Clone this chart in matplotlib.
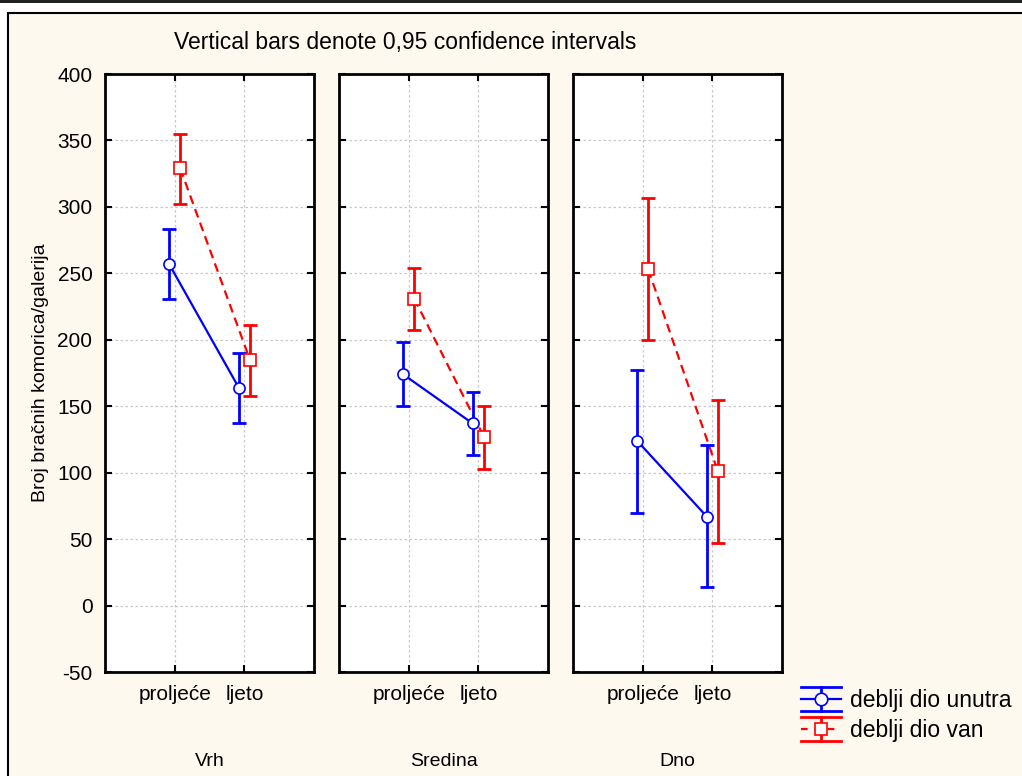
import matplotlib

matplotlib.use("Agg")
import matplotlib.pyplot as plt
from matplotlib.legend_handler import HandlerBase
from matplotlib.lines import Line2D
from matplotlib.patches import Rectangle

plt.rcParams["font.family"] = ["Liberation Sans", "DejaVu Sans"]
plt.rcParams["axes.unicode_minus"] = False

panels = ["Vrh", "Sredina", "Dno"]
seasons = ["proljeće", "ljeto"]

# deblji dio unutra (blue)
unutra_mean = [[257, 164], [174, 137], [124, 67]]
unutra_low = [[231, 137], [150, 113], [70, 14]]
unutra_high = [[283, 190], [198, 161], [177, 121]]

# deblji dio van (red)
van_mean = [[329, 185], [231, 127], [253, 101]]
van_low = [[302, 158], [207, 103], [200, 47]]
van_high = [[355, 211], [254, 150], [307, 155]]

series = [
    ("deblji dio unutra", unutra_mean, unutra_low, unutra_high, "#0000ff", "-", "o", -0.08),
    ("deblji dio van", van_mean, van_low, van_high, "#ff0000", (0, (4, 2.5)), "s", 0.08),
]

W, H = 1022, 776
CREAM = "#fdf9ef"


class ErrHandler(HandlerBase):
    def __init__(self, color, ls, marker):
        super().__init__()
        self.color, self.ls, self.marker = color, ls, marker

    def create_artists(self, legend, orig_handle, xdescent, ydescent, width, height, fontsize, trans):
        x0, x1 = -xdescent, -xdescent + width
        cy = -ydescent + height / 2
        h = height * 0.75
        xm = (x0 + x1) / 2
        arts = [
            Line2D([x0, x1], [cy, cy], color=self.color, ls=self.ls, lw=1.6),
            Line2D([x0, x1], [cy + h, cy + h], color=self.color, lw=2),
            Line2D([x0, x1], [cy - h, cy - h], color=self.color, lw=2),
            Line2D([xm, xm], [cy - h, cy + h], color=self.color, lw=2),
            Line2D([xm], [cy], marker=self.marker, ms=9, mfc="white", mec=self.color, mew=1.2, ls="none"),
        ]
        for a in arts:
            a.set_transform(trans)
        return arts


fig = plt.figure(figsize=(W / 100, H / 100), dpi=100, facecolor="white")
fig.patches.append(Rectangle((8 / W, -0.05), 1.05, 1 - 13 / H + 0.05, transform=fig.transFigure,
                             facecolor=CREAM, edgecolor="black", lw=1.5, zorder=-10))
fig.patches.append(Rectangle((0, 1 - 3 / H), 1, 3 / H, transform=fig.transFigure,
                             facecolor="#222222", edgecolor="none", zorder=-9))

lefts = [105, 339, 573]
pw = 209
bottom_px, top_px = 672, 74
x = [0, 1]
for i, name in enumerate(panels):
    ax = fig.add_axes([lefts[i] / W, 1 - bottom_px / H, pw / W, (bottom_px - top_px) / H])
    ax.set_facecolor("white")
    for label, mean, low, high, color, ls, marker, off in series:
        xs = [v + off for v in x]
        m = mean[i]
        yerr = [[m[k] - low[i][k] for k in range(2)], [high[i][k] - m[k] for k in range(2)]]
        ax.plot(xs, m, color=color, ls=ls, lw=1.6, zorder=3)
        ax.errorbar(xs, m, yerr=yerr, fmt="none", ecolor=color, elinewidth=2, capsize=5, capthick=2, zorder=4)
        ax.plot(xs, m, ls="none", marker=marker, ms=8, mfc="white", mec=color, mew=1.2, zorder=5)
    ax.set_xlim(-1, 2)
    ax.set_ylim(-50, 400)
    ax.set_xticks(x)
    ax.set_xticklabels(seasons, fontsize=15)
    ax.set_yticks(range(-50, 401, 50))
    ax.grid(True, color="#c8c8c8", ls=(0, (2, 2)), lw=0.9)
    ax.tick_params(direction="in", length=5, width=1.5, top=True, right=True, pad=9)
    ax.tick_params(axis="y", labelsize=15)
    if i > 0:
        ax.set_yticklabels([])
    else:
        ax.set_ylabel("Broj bračnih komorica/galerija", fontsize=14, labelpad=6)
    for sp in ax.spines.values():
        sp.set_linewidth(2)
    fig.text((lefts[i] + pw / 2) / W, 1 - 762 / H, name, ha="center", va="center", fontsize=14)

fig.text(405 / W, 1 - 43 / H, "Vertical bars denote 0,95 confidence intervals", ha="center", va="center",
         fontsize=16.5)

h1 = Line2D([], [], color="#0000ff")
h2 = Line2D([], [], color="#ff0000")
fig.legend([h1, h2], [s[0] for s in series],
           handler_map={h1: ErrHandler("#0000ff", "-", "o"), h2: ErrHandler("#ff0000", (0, (3, 3)), "s")},
           loc="upper left", bbox_to_anchor=(801 / W, 1 - 689 / H), frameon=False, fontsize=16.5,
           handlelength=1.75, handletextpad=0.4, labelspacing=0.3, borderpad=0, borderaxespad=0)

fig.savefig("out.png", dpi=100, facecolor=fig.get_facecolor())
